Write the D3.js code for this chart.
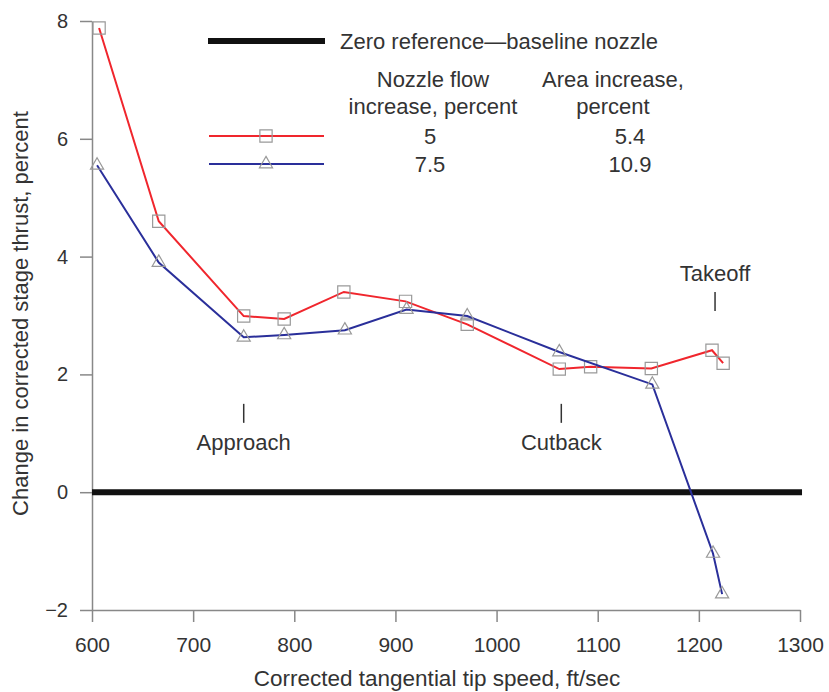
<!DOCTYPE html>
<html>
<head>
<meta charset="utf-8">
<script src="https://cdn.jsdelivr.net/npm/d3@7"></script>
<style>
  body { margin: 0; background: #fff; }
  text { font-family: "Liberation Sans", Arial, sans-serif; fill: #333; }
</style>
</head>
<body>
<svg id="chart" width="829" height="692"></svg>
<script>
// tip speed (ft/sec) and thrust change (percent)
const redX  = [607, 666, 750, 790, 849, 910, 971, 1062, 1093, 1153, 1213, 1224];
const redY  = [7.88, 4.6, 2.99, 2.94, 3.40, 3.24, 2.85, 2.09, 2.13, 2.1, 2.41, 2.19];
const blueX = [605, 666, 750, 790, 850, 911, 971, 1062, 1154, 1214, 1223];
const blueY = [5.55, 3.9, 2.63, 2.67, 2.75, 3.1, 2.99, 2.38, 1.83, -1.04, -1.73];

const xTicks = [600, 700, 800, 900, 1000, 1100, 1200, 1300];
const yTicks = [-2, 0, 2, 4, 6, 8];

const legendRows = [
  {color: "#f0262d", symbol: "square",   flow: "5",   area: "5.4"},
  {color: "#2a2f9a", symbol: "triangle", flow: "7.5", area: "10.9"}
];
const events = [
  {label: "Approach", x: 750, y: 1.5, below: true},
  {label: "Cutback",  x: 1064, y: 1.5, below: true},
  {label: "Takeoff",  x: 1216, y: 3.4, below: false}
];

const svg = d3.select("#chart"),
      margin = {top: 21, right: 29, bottom: 82, left: 92},
      width = +svg.attr("width"),
      height = +svg.attr("height");

const x = d3.scaleLinear().domain([600, 1300]).range([margin.left, width - margin.right]);
const y = d3.scaleLinear().domain([-2, 8]).range([height - margin.bottom, margin.top]);

const axisColor = "#888";

// axes
const gx = svg.append("g")
    .attr("transform", `translate(0,${y(-2)})`)
    .call(d3.axisBottom(x).tickValues(xTicks).tickSize(12).tickSizeOuter(0).tickPadding(15)
      .tickFormat(d3.format("d")));
const gy = svg.append("g")
    .attr("transform", `translate(${x(600)},0)`)
    .call(d3.axisLeft(y).tickValues(yTicks).tickSize(12).tickSizeOuter(0).tickPadding(12)
      .tickFormat(d => d < 0 ? "\u2212" + Math.abs(d) : d));
[gx, gy].forEach(g => {
  g.select(".domain").attr("stroke", axisColor).attr("stroke-width", 1.5);
  g.selectAll(".tick line").attr("stroke", axisColor).attr("stroke-width", 1.5);
  g.selectAll(".tick text").attr("fill", "#333")
    .attr("font-family", "Liberation Sans, Arial, sans-serif");
});
gx.selectAll(".tick text").attr("font-size", 21);
gy.selectAll(".tick text").attr("font-size", 20);

// axis labels
svg.append("text")
    .attr("x", 437)
    .attr("y", 686)
    .attr("text-anchor", "middle")
    .attr("font-size", 22.5)
    .text("Corrected tangential tip speed, ft/sec");

svg.append("text")
    .attr("transform", `translate(28,${(y(8) + y(-2)) / 2 - 2}) rotate(-90)`)
    .attr("text-anchor", "middle")
    .attr("font-size", 22)
    .text("Change in corrected stage thrust, percent");

// zero reference
svg.append("line")
    .attr("x1", x(600)).attr("x2", x(1302))
    .attr("y1", y(0)).attr("y2", y(0))
    .attr("stroke", "#111").attr("stroke-width", 6);

// event markers
events.forEach(e => {
  const yt = y(e.y);
  svg.append("line")
      .attr("x1", x(e.x)).attr("x2", x(e.x))
      .attr("y1", yt).attr("y2", yt + 19)
      .attr("stroke", "#333").attr("stroke-width", 1.5);
  svg.append("text")
      .attr("x", x(e.x))
      .attr("y", e.below ? yt + 46 : yt - 11)
      .attr("text-anchor", "middle")
      .attr("font-size", 22)
      .text(e.label);
});

const line = d3.line().x(d => x(d[0])).y(d => y(d[1]));
const sq = d3.symbol().type(d3.symbolSquare).size(150);
const tri = d3.symbol().type(d3.symbolTriangle).size(75);

function drawSeries(xs, ys, color, sym) {
  const pts = xs.map((v, i) => [v, ys[i]]);
  svg.append("path")
      .datum(pts)
      .attr("d", line)
      .attr("fill", "none")
      .attr("stroke", color)
      .attr("stroke-width", 2);
  svg.append("g").selectAll("path")
    .data(pts)
    .join("path")
      .attr("transform", d => `translate(${x(d[0])},${y(d[1])})`)
      .attr("d", sym)
      .attr("fill", "none")
      .attr("stroke", "#999")
      .attr("stroke-width", 1.2);
}

drawSeries(redX, redY, legendRows[0].color, sq);
drawSeries(blueX, blueY, legendRows[1].color, tri);

// legend
const lg = svg.append("g");
lg.append("line")
    .attr("x1", 208).attr("x2", 325).attr("y1", 41).attr("y2", 41)
    .attr("stroke", "#111").attr("stroke-width", 6);
lg.append("text")
    .attr("x", 340).attr("y", 49)
    .attr("font-size", 22)
    .text("Zero reference\u2014baseline nozzle");

[["Nozzle flow", "increase, percent", 433], ["Area increase,", "percent", 613]].forEach(h => {
  lg.append("text").attr("x", h[2]).attr("y", 87).attr("text-anchor", "middle")
    .attr("font-size", 22).text(h[0]);
  lg.append("text").attr("x", h[2]).attr("y", 114).attr("text-anchor", "middle")
    .attr("font-size", 22).text(h[1]);
});

legendRows.forEach((r, i) => {
  const ly = 136 + i * 28;
  lg.append("line")
      .attr("x1", 209).attr("x2", 324).attr("y1", ly).attr("y2", ly)
      .attr("stroke", r.color).attr("stroke-width", 2);
  lg.append("path")
      .attr("transform", `translate(266,${ly})`)
      .attr("d", r.symbol === "square" ? sq : tri)
      .attr("fill", "none").attr("stroke", "#999").attr("stroke-width", 1.2);
  lg.append("text").attr("x", 430).attr("y", ly + 8).attr("text-anchor", "middle")
    .attr("font-size", 22).text(r.flow);
  lg.append("text").attr("x", 630).attr("y", ly + 8).attr("text-anchor", "middle")
    .attr("font-size", 22).text(r.area);
});
</script>
</body>
</html>
